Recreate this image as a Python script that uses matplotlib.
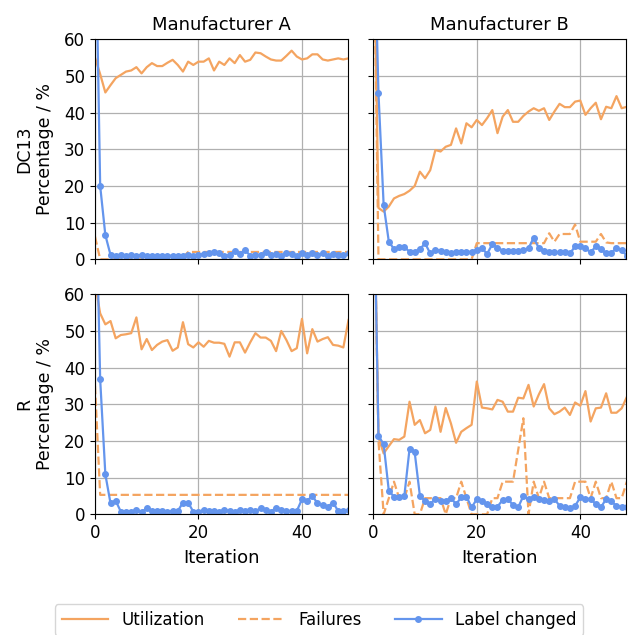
import matplotlib
matplotlib.use("Agg")
import matplotlib.pyplot as plt
import numpy as np

plt.rcParams['font.size'] = 12

iterations = np.arange(50)

# DC13 / Manufacturer A
util_dc13_a = [55, 50.5, 45.5, 47.5, 49.4, 50.3, 51.2, 51.5, 52.4, 50.7, 52.4, 53.5, 52.7, 52.7, 53.6,
               54.4, 53.0, 51.2, 53.9, 53.0, 53.9, 53.9, 54.8, 51.5, 53.9, 53.0, 54.8, 53.5, 55.7, 53.9,
               54.4, 56.4, 56.2, 55.3, 54.5, 54.2, 54.2, 55.5, 56.9, 55.3, 54.5, 54.8, 55.9, 55.9, 54.5,
               54.2, 54.5, 54.8, 54.5, 54.8]
fail_dc13_a = [6.2, 0, 0, 0, 0, 0, 0, 0, 0, 0, 0, 0, 0, 0, 0, 0, 0, 0.5, 2.0, 2.0, 2.0, 2.0, 2.0, 2.0, 2.0,
               2.0, 2.0, 2.0, 2.0, 2.0, 2.0, 2.0, 2.0, 2.0, 2.0, 2.0, 2.0, 2.0, 2.0, 2.0, 2.0, 2.0, 2.0,
               2.0, 2.0, 2.0, 2.0, 2.0, 2.0, 2.0]
label_dc13_a = [100, 20, 6.6, 1.2, 1.0, 1.1, 1.0, 1.1, 0.9, 1.3, 0.9, 1.0, 0.9, 1.0, 0.9, 1.0, 0.9, 1.0,
                1.1, 1.0, 1.2, 1.5, 1.8, 2.0, 1.6, 0.9, 1.2, 2.2, 1.5, 2.5, 1.0, 1.1, 1.3, 1.9, 1.2, 1.5,
                1.0, 1.8, 1.4, 1.0, 1.6, 1.1, 1.6, 1.1, 1.6, 1.0, 1.5, 1.2, 1.1, 1.6]

# DC13 / Manufacturer B
util_dc13_b = [100, 14.0, 13.0, 14.4, 16.6, 17.3, 17.8, 18.7, 20.0, 23.9, 22.1, 24.3, 29.8, 29.4, 30.7,
               31.2, 35.7, 31.6, 37.1, 36.0, 38.0, 36.6, 38.5, 40.7, 34.4, 38.9, 40.7, 37.5, 37.5, 39.1,
               40.3, 41.2, 40.5, 41.2, 38.0, 40.3, 42.4, 41.5, 41.5, 43.0, 43.3, 39.4, 41.2, 42.7, 38.2,
               41.6, 41.2, 44.5, 41.2, 41.6]
fail_dc13_b = [100, 0, 0, 0, 0, 0, 0, 0, 0, 0, 0, 0, 0, 0, 0, 0, 0, 0, 0, 0, 4.4, 4.4, 4.4, 4.4, 4.4,
               4.4, 4.4, 4.4, 4.4, 4.4, 4.4, 4.4, 4.4, 4.4, 7.1, 4.8, 6.9, 6.9, 6.9, 9.5, 4.8, 4.8, 4.8,
               4.8, 6.9, 4.6, 4.4, 4.4, 4.4, 4.4]
label_dc13_b = [100, 45.3, 14.8, 4.8, 2.8, 3.3, 3.3, 2.1, 2.1, 2.7, 4.4, 1.6, 2.5, 2.4, 1.9, 1.6, 1.9,
                1.9, 1.9, 2.1, 2.5, 3.0, 1.5, 4.1, 3.2, 2.4, 2.4, 2.4, 2.4, 2.5, 3.0, 5.9, 3.0, 2.4, 2.1,
                1.9, 1.9, 2.1, 1.6, 3.5, 3.6, 3.0, 1.9, 3.5, 2.7, 1.6, 1.8, 3.0, 2.5, 1.0]

# R / Manufacturer A
util_r_a = [63, 54.8, 51.8, 52.7, 48.0, 48.9, 49.1, 49.4, 53.7, 45.0, 47.8, 44.8, 46.2, 47.1, 47.5, 44.6,
            45.5, 52.4, 46.4, 45.5, 46.9, 45.7, 47.3, 46.8, 46.8, 46.5, 43.0, 46.9, 46.9, 44.1, 46.9,
            49.4, 48.2, 48.2, 47.3, 44.5, 50.0, 47.5, 44.5, 45.3, 53.3, 43.9, 50.5, 47.1, 47.8, 48.3,
            46.2, 46.0, 45.5, 53.0]
fail_r_a = [35] + [5.3] * 49
label_r_a = [100, 36.8, 10.9, 3.0, 3.7, 0.7, 0.7, 0.7, 1.2, 0.7, 1.6, 0.9, 0.9, 0.9, 0.7, 0.9, 0.9, 3.2,
             3.2, 0.7, 0.7, 1.2, 0.9, 0.9, 0.7, 1.2, 0.9, 0.7, 1.2, 0.9, 1.2, 0.9, 1.6, 1.2, 0.7, 1.8,
             1.2, 0.9, 0.9, 0.9, 4.1, 3.7, 5.0, 3.0, 2.5, 2.1, 3.2, 0.9, 0.9, 1.2]

# R / Manufacturer B
util_r_b = [100, 21.0, 16.6, 18.6, 20.5, 20.3, 21.2, 30.7, 24.4, 25.7, 22.1, 23.0, 29.4, 22.5, 29.0, 24.8,
            19.5, 22.5, 23.5, 24.4, 36.2, 29.1, 28.9, 28.6, 31.2, 30.7, 28.0, 28.0, 31.8, 31.6, 35.3,
            29.4, 32.7, 35.5, 28.9, 27.3, 28.0, 29.1, 27.1, 30.5, 29.6, 33.6, 25.3, 28.9, 29.1, 33.0,
            27.7, 27.7, 28.9, 32.0]
fail_r_b = [100, 20, 0, 4.4, 8.9, 4.4, 4.4, 8.9, 0, 0, 4.4, 4.4, 4.4, 4.4, 0, 4.4, 4.4, 8.9, 4.4, 0, 0, 0,
            0, 4.4, 4.4, 8.9, 8.9, 8.9, 17.5, 26.2, 0, 8.9, 4.4, 8.9, 4.4, 4.4, 4.4, 4.4, 4.4, 8.9, 8.9,
            8.9, 4.4, 8.9, 4.4, 4.4, 8.9, 4.4, 4.4, 8.9]
label_r_b = [100, 21.4, 19.1, 6.4, 4.8, 4.8, 5.0, 17.8, 16.9, 5.1, 3.6, 2.8, 4.2, 3.7, 3.7, 4.4, 2.8, 4.6,
             4.8, 1.9, 4.1, 3.5, 2.8, 1.9, 2.1, 3.9, 4.2, 2.5, 1.9, 5.0, 4.1, 4.8, 4.1, 3.9, 3.7, 4.2,
             2.3, 1.9, 1.6, 2.3, 4.6, 4.2, 4.2, 2.8, 1.9, 4.2, 3.5, 2.3, 2.1, 1.9]

manufacturers = ["Manufacturer A", "Manufacturer B"]
datasets = ["DC13", "R"]
panels = {
    ("DC13", 0): (util_dc13_a, fail_dc13_a, label_dc13_a),
    ("DC13", 1): (util_dc13_b, fail_dc13_b, label_dc13_b),
    ("R", 0): (util_r_a, fail_r_a, label_r_a),
    ("R", 1): (util_r_b, fail_r_b, label_r_b),
}

ORANGE = "#f4a460"
BLUE = "#6495ed"

W, H = 633, 635
fig = plt.figure(figsize=(W / 100, H / 100), dpi=100)

lefts = [95, 373.3]
axw = 252.5
tops = [39.3, 294.3]
axh = 220

axes = {}
for r, ds in enumerate(datasets):
    for c in range(2):
        ax = fig.add_axes([lefts[c] / W, 1 - (tops[r] + axh) / H, axw / W, axh / H])
        axes[(r, c)] = ax
        u, f, l = panels[(ds, c)]
        lu, = ax.plot(iterations, u, color=ORANGE, lw=1.6, label="Utilization")
        lf, = ax.plot(iterations, f, color=ORANGE, lw=1.6, ls="--", label="Failures")
        ll, = ax.plot(iterations, l, color=BLUE, lw=1.6, marker="o", ms=4, label="Label changed")
        ax.set_xlim(0, 48.8)
        ax.set_ylim(0, 60)
        ax.set_xticks([0, 20, 40])
        ax.set_yticks(range(0, 61, 10))
        ax.grid(True, color="#b0b0b0", lw=0.9)
        ax.set_axisbelow(True)
        if r == 0:
            ax.set_title(manufacturers[c], fontsize=13, pad=7)
            ax.tick_params(labelbottom=False)
        else:
            ax.set_xlabel("Iteration", fontsize=13, labelpad=5)
        if c == 0:
            ax.set_ylabel(f"{ds}\nPercentage / %", fontsize=12.5, labelpad=7)
        else:
            ax.tick_params(labelleft=False)

fig.legend(handles=[lu, lf, ll], loc="center", bbox_to_anchor=(319 / W, 1 - 620 / H),
           ncol=3, fontsize=12, columnspacing=2.0, handlelength=2.8)

fig.savefig("out.png", dpi=100)
